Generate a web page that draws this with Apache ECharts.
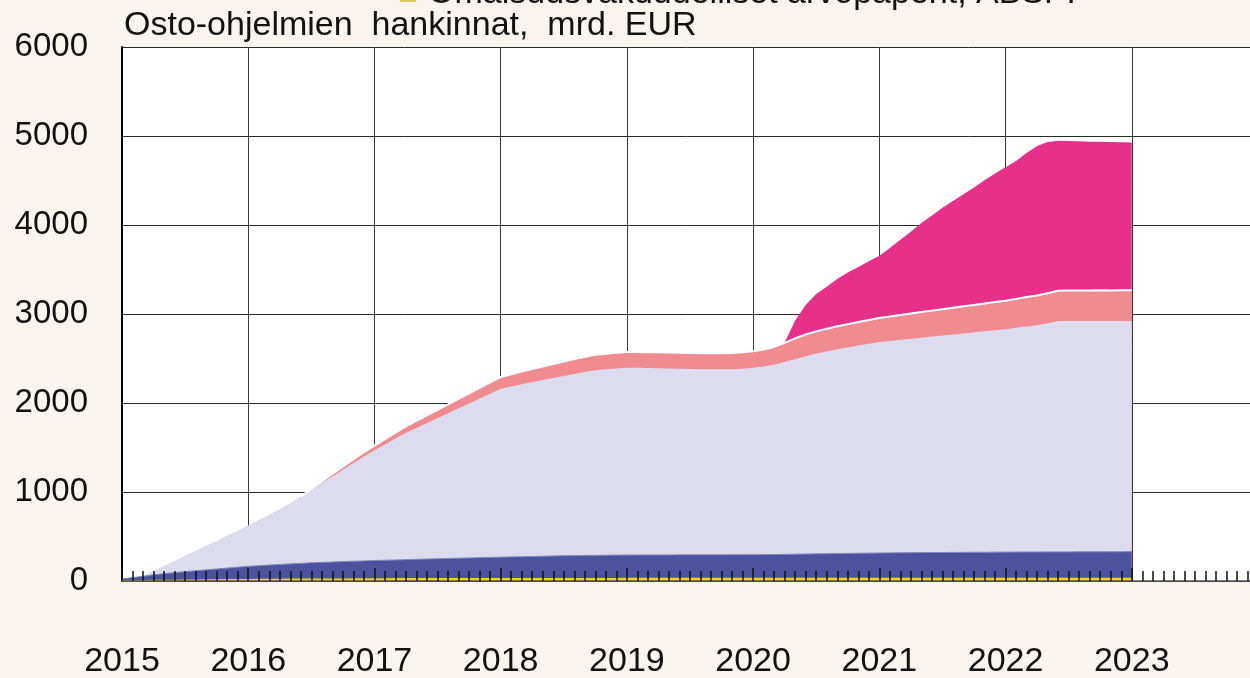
<!DOCTYPE html>
<html>
<head>
<meta charset="utf-8">
<script src="https://cdn.jsdelivr.net/npm/echarts@6.0.0/dist/echarts.min.js"></script>
<style>
html, body { margin: 0; padding: 0; background: #f9f5ee; }
#chart { width: 1250px; height: 678px; }
</style>
</head>
<body>
<div id="chart"></div>
<script>
// monthly observations, first one = Jan 2015
var startYear = 2015;
var yearTicks = [2015, 2016, 2017, 2018, 2019, 2020, 2021, 2022, 2023];

// ABSPP (yellow), mrd. EUR
var absppData = [
  2, 3, 4, 5, 6, 7, 8, 9, 10, 11, 13, 14, 15,
  16, 17, 18, 19, 19, 20, 20, 21, 21, 22, 22, 23,
  23, 24, 24, 24, 24, 24, 25, 25, 25, 25, 25, 26,
  26, 26, 26, 26, 26, 26, 26, 26, 26, 26, 26, 27,
  27, 27, 27, 27, 27, 27, 27, 27, 27, 27, 27, 28,
  28, 28, 28, 28, 28, 28, 28, 28, 28, 28, 28, 28,
  28, 28, 28, 28, 28, 28, 28, 28, 28, 28, 28, 27,
  27, 27, 27, 27, 27, 27, 27, 27, 27, 27, 27, 27
];
// CBPP3 (dark blue)
var cbpp3Data = [
  20, 35, 48, 65, 76, 87, 97, 106, 115, 124, 132, 141, 150,
  156, 162, 168, 173, 179, 185, 189, 192, 197, 200, 204, 207,
  210, 212, 216, 219, 223, 226, 228, 231, 234, 237, 240, 242,
  245, 247, 250, 252, 255, 257, 259, 261, 262, 264, 265, 265,
  265, 266, 266, 266, 267, 267, 267, 267, 267, 268, 268, 267,
  268, 269, 271, 273, 275, 277, 279, 280, 282, 283, 285, 287,
  288, 289, 290, 291, 292, 292, 293, 294, 295, 295, 296, 298,
  298, 299, 299, 300, 300, 300, 301, 301, 301, 302, 302, 303
];
// PSPP (lavender)
var psppData = [
  0, 0, 8, 45, 88, 131, 180, 225, 270, 315, 365, 410, 460,
  513, 566, 619, 683, 752, 820, 891, 962, 1032, 1103, 1174, 1240,
  1302, 1364, 1425, 1477, 1528, 1580, 1632, 1684, 1736, 1788, 1840, 1892,
  1914, 1937, 1959, 1980, 2000, 2021, 2041, 2061, 2080, 2088, 2097, 2103,
  2103, 2100, 2097, 2095, 2091, 2088, 2086, 2084, 2084, 2085, 2090, 2100,
  2114, 2133, 2161, 2194, 2222, 2250, 2273, 2297, 2315, 2334, 2352, 2370,
  2381, 2393, 2404, 2415, 2426, 2438, 2449, 2460, 2471, 2483, 2494, 2505,
  2520, 2534, 2549, 2568, 2593, 2595, 2594, 2592, 2594, 2591, 2593, 2592
];
// CSPP (salmon), starts June 2016
var csppFirstMonth = 17;
var csppData = [
  0, 10, 20, 28, 35, 42, 47, 52,
  58, 66, 72, 79, 86, 93, 100, 106, 113, 119, 126, 132,
  138, 143, 148, 153, 158, 163, 167, 171, 174, 176, 177, 178,
  178, 178, 179, 179, 179, 180, 180, 180, 181, 181, 184, 187,
  192, 200, 215, 232, 245, 250, 255, 258, 261, 264, 267, 270,
  274, 279, 283, 288, 292, 296, 300, 304, 308, 312, 316, 320,
  325, 330, 334, 338, 341, 342, 343, 343, 344, 344, 344, 344
];
// PEPP (magenta), starts March 2020
var peppFirstMonth = 62;
var peppData = [
  0, 5, 200, 330, 420, 470, 530, 580, 620, 660, 700,
  770, 845, 920, 1000, 1070, 1140, 1200, 1260, 1320, 1385, 1445, 1500,
  1550, 1620, 1680, 1700, 1685, 1680, 1676, 1672, 1670, 1668, 1665, 1662
];

var nMonths = absppData.length;

// align a series to the monthly grid (null before it starts)
function fullLength(values, firstMonth) {
  var out = [];
  for (var i = 0; i < nMonths; i++) {
    var k = i - firstMonth;
    out.push((k >= 0 && k < values.length) ? values[k] : null);
  }
  return out;
}

// layers bottom -> top; stacked by hand since both axes are value axes
var layers = [
  { name: 'ABSPP', values: fullLength(absppData, 0), color: '#f5d300', line: { width: 1.5, color: '#f5d300' } },
  { name: 'CBPP3', values: fullLength(cbpp3Data, 0), color: '#4b539e', line: { width: 1, color: '#7f86bd' } },
  { name: 'PSPP', values: fullLength(psppData, 0), color: '#dcdcee' },
  { name: 'CSPP', values: fullLength(csppData, csppFirstMonth), color: '#f08c90', line: { width: 2, color: '#ffffff' } },
  { name: 'PEPP', values: fullLength(peppData, peppFirstMonth), color: '#e6308a' }
];

var running = [];
for (var i = 0; i < nMonths; i++) running.push(0);
var series = [];
layers.forEach(function (layer) {
  var pts = [];
  for (var i = 0; i < nMonths; i++) {
    var v = layer.values[i];
    if (v === null) { pts.push([startYear + i / 12, null]); continue; }
    running[i] += v;
    pts.push([startYear + i / 12, running[i]]);
  }
  series.push({
    name: layer.name,
    type: 'line',
    showSymbol: false,
    symbol: 'none',
    xAxisIndex: 0,
    lineStyle: layer.line || { width: 0 },
    areaStyle: { color: layer.color, opacity: 1 },
    itemStyle: { color: layer.color },
    data: pts
  });
});
// draw the tallest cumulative layer first so lower ones sit on top
series.reverse();

var myChart = echarts.init(document.getElementById('chart'));
var font = "'Liberation Sans', Arial, sans-serif";

var option = {
  backgroundColor: '#f9f5ee',
  animation: false,
  grid: {
    left: 122, top: 47, width: 1136, height: 534,
    outerBoundsMode: 'none', containLabel: false,
    show: true, backgroundColor: '#ffffff', borderWidth: 0
  },
  graphic: [
    { type: 'rect', shape: { x: 400, y: -14, width: 16, height: 16 }, style: { fill: '#e0c75a' } },
    { type: 'text', style: { x: 428, y: -6, text: 'Omaisuusvakuudelliset arvopaperit, ABSPP', font: '34px ' + font, fill: '#111', verticalAlign: 'middle' } },
    { type: 'text', style: { x: 124, y: 26, text: 'Osto-ohjelmien  hankinnat,  mrd. EUR', font: '34px ' + font, fill: '#111', verticalAlign: 'middle' } }
  ],
  xAxis: [
    {
      // gridlines only (below the areas)
      type: 'value', min: 2015, max: 2024, interval: 1, position: 'bottom',
      axisLine: { show: false }, axisTick: { show: false }, axisLabel: { show: false },
      splitLine: { show: true, lineStyle: { color: '#3a3a3a', width: 1 } }
    },
    {
      // ticks and labels (above the areas)
      type: 'value', min: 2015, max: 2024, interval: 1, position: 'bottom', z: 10,
      axisLine: { show: true, onZero: false, lineStyle: { color: '#555', width: 1.5 } },
      axisTick: { show: true, inside: true, length: 13, lineStyle: { color: '#111', width: 1.5 } },
      minorTick: { show: true, splitNumber: 12, length: 10, lineStyle: { color: '#111', width: 1.5 } },
      splitLine: { show: false },
      axisLabel: {
        margin: 64, fontSize: 34, fontFamily: font, color: '#111',
        formatter: function (v) { return yearTicks.indexOf(Math.round(v)) >= 0 ? String(Math.round(v)) : ''; }
      }
    }
  ],
  yAxis: {
    type: 'value', min: 0, max: 6000, interval: 1000,
    axisLine: { show: true, lineStyle: { color: '#000', width: 2 } },
    axisTick: { show: false },
    axisLabel: { margin: 34, fontSize: 33, fontFamily: font, color: '#111', formatter: function (v) { return String(v); } },
    splitLine: { show: true, lineStyle: { color: '#2a2a2a', width: 1 } }
  },
  series: series
};

myChart.setOption(option);
</script>
</body>
</html>
